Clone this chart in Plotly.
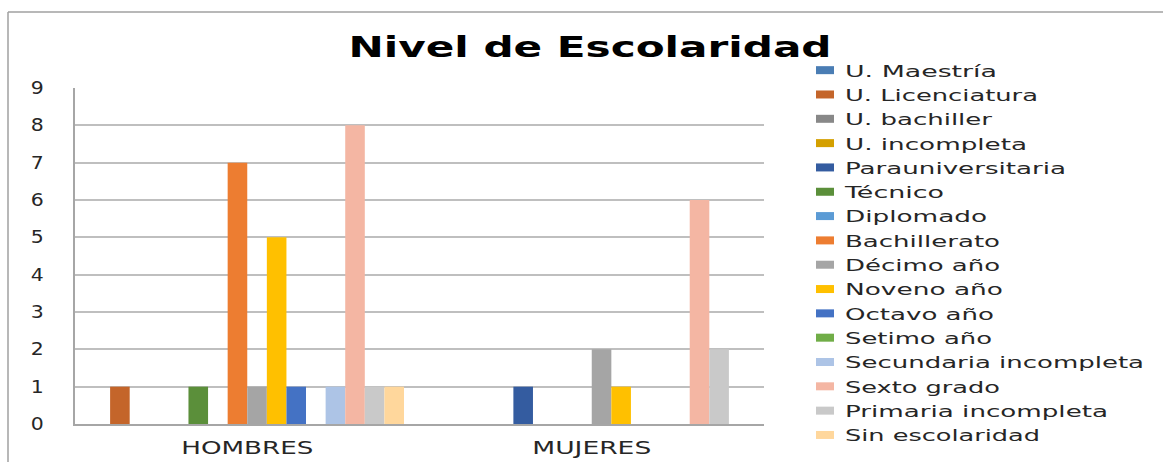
import json
import plotly.graph_objects as go

categories = ["HOMBRES", "MUJERES"]

series_names = [
    "U. Maestría", "U. Licenciatura", "U. bachiller", "U. incompleta",
    "Parauniversitaria", "Técnico", "Diplomado", "Bachillerato",
    "Décimo año", "Noveno año", "Octavo año", "Setimo año",
    "Secundaria incompleta", "Sexto grado", "Primaria incompleta", "Sin escolaridad",
]

hombres = [0, 1, 0, 0, 0, 1, 0, 7, 1, 5, 1, 0, 1, 8, 1, 1]
mujeres = [0, 0, 0, 0, 1, 0, 0, 0, 2, 1, 0, 0, 0, 6, 2, 0]

colors = [
    "#4A7DB4", "#C4652A", "#888888", "#D4A000",
    "#345CA0", "#5B8F3A", "#5B9BD5", "#ED7D31",
    "#A5A5A5", "#FFC000", "#4472C4", "#70AD47",
    "#ADC4E6", "#F4B6A3", "#C9C9C9", "#FFD79C",
]

y_ticks = list(range(0, 10))

# rendered text widths (px) of the reference's horizontally wide lettering
legend_text_widths = [152, 193, 147, 182, 221, 99, 142, 155,
                      155, 158, 149, 147, 299, 155, 263, 195]
xtick_text_widths = [132, 119]
title_text_width = 483

fig = go.Figure()
for name, h, m, c in zip(series_names, hombres, mujeres, colors):
    fig.add_trace(go.Bar(
        name=name, x=categories, y=[h, m],
        marker=dict(color=c, line=dict(width=0)),
    ))

W, H = 1163, 462
L, R, T, B = 75, 399, 88, 38
pw, ph = W - L - R, H - T - B

def px(x):
    return (x - L) / pw

def py(y):
    return (H - B - y) / ph

fig.update_layout(
    width=W, height=H,
    margin=dict(l=L, r=R, t=T, b=B, autoexpand=False),
    paper_bgcolor="white", plot_bgcolor="white",
    barmode="group", bargap=0.09, bargroupgap=0,
    font=dict(family="DejaVu Sans", color="#262626"),
    title=dict(
        text="<b>Nivel de Escolaridad</b>",
        font=dict(family="DejaVu Sans", size=29, color="#000000"),
        x=590 / W, xref="container", xanchor="center",
        y=1 - 47 / H, yref="container", yanchor="middle",
    ),
    legend=dict(
        x=px(805), y=py(53), xanchor="left", yanchor="top",
        font=dict(family="DejaVu Sans", size=16.4, color="#262626"),
        bgcolor="rgba(0,0,0,0)", traceorder="normal", maxheight=440,
    ),
    xaxis=dict(
        showline=True, linecolor="#A6A6A6", linewidth=1.5,
        tickfont=dict(family="DejaVu Sans", size=17, color="#262626"),
        ticks="", ticklabelstandoff=8, showgrid=False,
    ),
    yaxis=dict(
        range=[0, 9], tickvals=y_ticks, ticktext=[str(v) for v in y_ticks],
        showline=True, linecolor="#A6A6A6", linewidth=1.5,
        showgrid=True, gridcolor="#BFBFBF", gridwidth=1.5,
        zeroline=False,
        tickfont=dict(family="DejaVu Sans", size=17, color="#262626"),
        ticks="", ticklabelstandoff=26,
    ),
    shapes=[
        dict(type="line", xref="paper", yref="paper",
             x0=px(8), y0=py(12), x1=px(1170), y1=py(12),
             line=dict(color="#A0A0A0", width=1.5)),
        dict(type="line", xref="paper", yref="paper",
             x0=px(8), y0=py(12), x1=px(8), y1=py(470),
             line=dict(color="#A0A0A0", width=1.5)),
    ],
)

post = """
document.body.style.margin = '0';
document.body.style.overflow = 'hidden';
var LW = %s, XW = %s, TW = %s;
function setLen(t, w) {
  t.setAttribute('textLength', String(w));
  t.setAttribute('lengthAdjust', 'spacingAndGlyphs');
}
document.querySelectorAll('.legendtext').forEach(function (t, i) {
  if (i < LW.length) setLen(t, LW[i]);
});
document.querySelectorAll('.xtick text').forEach(function (t, i) {
  if (i < XW.length) setLen(t, XW[i]);
});
document.querySelectorAll('.gtitle').forEach(function (t) { setLen(t, TW); });
document.querySelectorAll('.ytick text').forEach(function (t) {
  setLen(t, (t.getComputedTextLength() * 1.2).toFixed(1));
});
document.querySelectorAll('.legendpoints path').forEach(function (p) {
  p.setAttribute('d', 'M9,4H-9V-4H9Z');
});
document.querySelectorAll('.legend [clip-path], .legend[clip-path]').forEach(function (g) {
  g.removeAttribute('clip-path');
});
""" % (json.dumps(legend_text_widths), json.dumps(xtick_text_widths), title_text_width)

fig.write_html("out.html", post_script=post, config={"displayModeBar": False})
